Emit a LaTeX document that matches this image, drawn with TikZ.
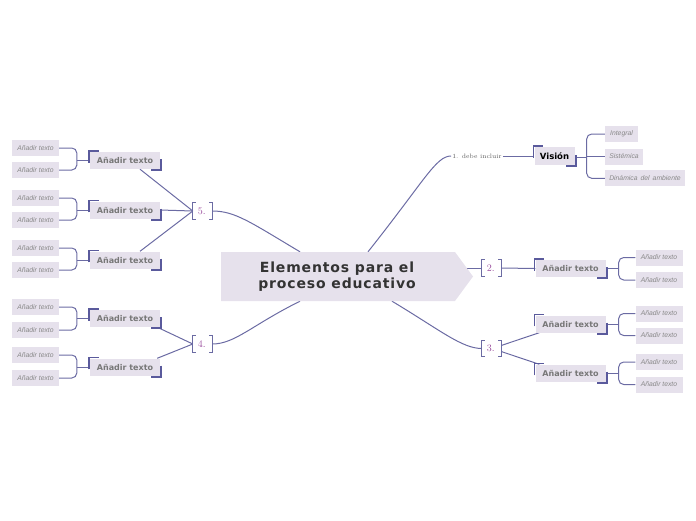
\documentclass[tikz,border=0pt]{standalone}
\usepackage{fontspec}
\newfontfamily\dejavu{DejaVu Sans}
\newfontfamily\dejavut{DejaVu Sans}[LetterSpace=6]
\newfontfamily\libit{Liberation Sans}
\usetikzlibrary{calc}
\pgfdeclarelayer{bg}
\pgfsetlayers{bg,main}
\definecolor{linec}{HTML}{6B6BA3}
\definecolor{boxc}{HTML}{E6E1EC}
\definecolor{cornc}{HTML}{5A5A9C}
\definecolor{numc}{HTML}{9B4F9E}
\definecolor{txtg}{HTML}{777777}
\definecolor{leafg}{HTML}{888888}
\definecolor{titlec}{HTML}{333333}
\tikzset{
  conn/.style={draw=linec, line width=1pt},
  bline/.style={draw=linec, line width=1pt},
  topic/.style={fill=boxc, minimum width=70pt, minimum height=17pt, inner sep=0pt,
    font=\dejavu\bfseries\fontsize{8}{9}\selectfont, text=txtg},
  leaf/.style={fill=boxc, minimum width=47pt, minimum height=16pt, inner sep=0pt,
    font=\libit\itshape\fontsize{6.8}{8}\selectfont, text=leafg},
  brk/.style={minimum width=19pt, minimum height=16pt, inner sep=0pt,
    font=\fontsize{10}{12}\selectfont, text=numc},
  corner/.style={draw=cornc, line width=1.6pt},
}
\newcommand\mycorners[1]{%
  \draw[corner] ([shift={(-1pt,-11pt)}]#1.north west) -- ([shift={(-1pt,1pt)}]#1.north west) -- ([shift={(9pt,1pt)}]#1.north west);
  \draw[corner] ([shift={(1pt,10pt)}]#1.south east) -- ([shift={(1pt,-1pt)}]#1.south east) -- ([shift={(-9pt,-1pt)}]#1.south east);}
\newcommand\mybrackets[1]{%
  \draw[bline] ([xshift=3pt]#1.north west) -- (#1.north west) -- (#1.south west) -- ([xshift=3pt]#1.south west);
  \draw[bline] ([xshift=-3pt]#1.north east) -- (#1.north east) -- (#1.south east) -- ([xshift=-3pt]#1.south east);}
\newcommand\forkL[3]{%
  \coordinate (fk) at ($(#1.west)+(-13,0)$);
  \draw[conn,rounded corners=5pt] (#2.east) -| (fk) |- (#3.east);
  \draw[conn] (fk) -- (#1.west);}
\newcommand\forkR[3]{%
  \coordinate (fk) at ($(#1.east)+(13,0)$);
  \draw[conn,rounded corners=5pt] (#2.west) -| (fk) |- (#3.west);
  \draw[conn] (fk) -- (#1.east);}
\begin{document}
\begin{tikzpicture}[x=1pt,y=-1pt]
\useasboundingbox (0,0) rectangle (696,520);
% central
\fill[boxc] (221,252) -- (455,252) -- (473,276.5) -- (455,301) -- (221,301) -- cycle;
\node[minimum width=234pt, minimum height=49pt, inner sep=0pt, align=center, text=titlec,
  font=\dejavut\bfseries\fontsize{14}{16}\selectfont] (c) at (337,276.5) {Elementos para el\\proceso educativo};
% brackets
\node[brk] (b5) at (202.5,211) {5.\,};
\node[brk] (b4) at (202.5,344) {4.\,};
\node[brk] (b2) at (491.5,268) {2.\,};
\node[brk] (b3) at (491.5,348.5) {3.\,};
% top branch
\node[inner sep=1pt, text=black!65, font=\fontsize{6.3}{7}\selectfont] (d1) at (477,156) {1. debe incluir};
\node[fill=boxc, minimum width=40pt, minimum height=18pt, inner sep=0pt,
  font=\dejavu\bfseries\fontsize{8.5}{10}\selectfont] (v) at (554.5,156) {Visión};
\node[leaf, minimum width=33pt] (vi1) at (621.5,134) {Integral};
\node[leaf, minimum width=38pt] (vi2) at (624,156.5) {Sistémica};
\node[leaf, minimum width=80pt] (vi3) at (645,178.3) {Dinámica\, del\, ambiente};
% left 5
\node[topic] (p51) at (125,160.5) {Añadir texto};
\node[topic] (p52) at (125,210) {Añadir texto};
\node[topic] (p53) at (125,260) {Añadir texto};
\node[leaf] (l511) at (35.5,148) {Añadir texto};
\node[leaf] (l512) at (35.5,170) {Añadir texto};
\node[leaf] (l521) at (35.5,198) {Añadir texto};
\node[leaf] (l522) at (35.5,220) {Añadir texto};
\node[leaf] (l531) at (35.5,248) {Añadir texto};
\node[leaf] (l532) at (35.5,270) {Añadir texto};
% left 4
\node[topic] (p41) at (125,318.5) {Añadir texto};
\node[topic] (p42) at (125,367) {Añadir texto};
\node[leaf] (l411) at (35.5,307) {Añadir texto};
\node[leaf] (l412) at (35.5,330) {Añadir texto};
\node[leaf] (l421) at (35.5,355) {Añadir texto};
\node[leaf] (l422) at (35.5,378) {Añadir texto};
% right 2
\node[topic] (p21) at (570.5,268.5) {Añadir texto};
\node[leaf, minimum width=47pt] (l211) at (659,257.5) {Añadir texto};
\node[leaf, minimum width=47pt] (l212) at (659,280) {Añadir texto};
% right 3
\node[topic] (p31) at (570.5,324) {Añadir texto};
\node[topic] (p32) at (570.5,373) {Añadir texto};
\node[leaf] (l311) at (659,313.5) {Añadir texto};
\node[leaf] (l312) at (659,335.5) {Añadir texto};
\node[leaf] (l321) at (659,362) {Añadir texto};
\node[leaf] (l322) at (659,384.5) {Añadir texto};
% decorations
\foreach \n in {p51,p52,p53,p41,p42,p21,p31,p32,v} {\mycorners{\n}}
\foreach \n in {b5,b4,b2,b3} {\mybrackets{\n}}
% connectors
\begin{pgfonlayer}{bg}
\draw[conn] (b5.east) .. controls (235,211) and (250,222) .. ([xshift=-37pt]c.north);
\draw[conn] (b4.east) .. controls (235,344) and (252,325) .. ([xshift=-37pt]c.south);
\draw[conn] ([xshift=31pt]c.north) .. controls (425,180) and (436,156) .. (d1.west);
\draw[conn] ([xshift=55pt]c.south) .. controls (440,330) and (462,348.5) .. (b3.west);
\draw[conn] (c.east |- b2.west) -- (b2.west);
\draw[conn] (d1.east) -- (v.west);
\coordinate (fv) at ($(v.east)+(12,1)$);
\draw[conn,rounded corners=5pt] (vi1.west) -| (fv) |- (vi3.west);
\draw[conn] (fv) -- (fv -| v.east);
\draw[conn] (vi2.west) -- (vi2.west -| fv);
\draw[conn] ([xshift=15pt]p51.south) -- (b5.west);
\draw[conn] (p52.east) -- (b5.west);
\draw[conn] ([xshift=15pt]p53.north) -- (b5.west);
\draw[conn] ([xshift=-3pt]p41.south east) -- (b4.west);
\draw[conn] ([xshift=-3pt]p42.north east) -- (b4.west);
\draw[conn] (b2.east) -- (p21.west);
\draw[conn] ([yshift=3pt]b3.east) -- ([xshift=4pt]p31.south west);
\draw[conn] ([yshift=-3pt]b3.east) -- ([xshift=4pt]p32.north west);
\forkL{p51}{l511}{l512}
\forkL{p52}{l521}{l522}
\forkL{p53}{l531}{l532}
\forkL{p41}{l411}{l412}
\forkL{p42}{l421}{l422}
\forkR{p21}{l211}{l212}
\forkR{p31}{l311}{l312}
\forkR{p32}{l321}{l322}
\end{pgfonlayer}
\end{tikzpicture}
\end{document}
